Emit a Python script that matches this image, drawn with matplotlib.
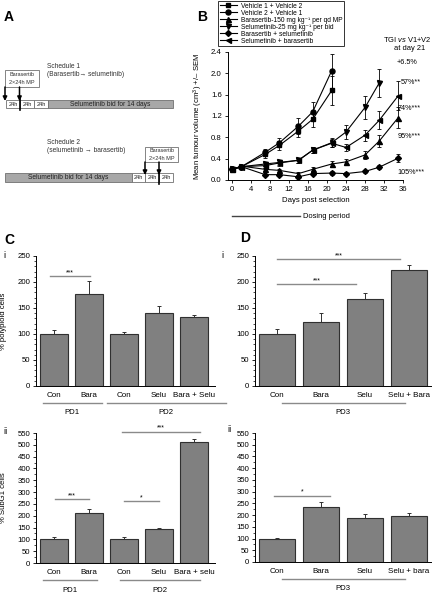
import numpy as np
import matplotlib
matplotlib.use("Agg")
import matplotlib.pyplot as plt
from matplotlib.patches import Rectangle

plt.rcParams['font.family'] = ['Liberation Sans', 'DejaVu Sans']
plt.rcParams['mathtext.fontset'] = 'custom'
plt.rcParams['mathtext.rm'] = 'Liberation Sans'
plt.rcParams['mathtext.it'] = 'Liberation Sans:italic'

W, H = 433, 596

# ---- panel B: tumour volume data (cm3) ----
veh_days = [0, 2, 7, 10, 14, 17, 21]
long_days = [0, 2, 7, 10, 14, 17, 21, 24, 28, 31, 35]
selu_days = [0, 2, 7, 10, 14, 17, 21, 24, 28, 31]

v1_vol = [0.20, 0.25, 0.48, 0.65, 0.92, 1.14, 1.68]
v1_err = [0.02, 0.03, 0.06, 0.08, 0.12, 0.15, 0.27]
v2_vol = [0.20, 0.25, 0.52, 0.70, 1.01, 1.28, 2.05]
v2_err = [0.02, 0.03, 0.06, 0.08, 0.15, 0.18, 0.32]
bara_vol = [0.20, 0.26, 0.20, 0.18, 0.12, 0.20, 0.30, 0.34, 0.47, 0.73, 1.17]
bara_err = [0.02, 0.03, 0.03, 0.03, 0.03, 0.04, 0.05, 0.06, 0.07, 0.12, 0.19]
selu_vol = [0.20, 0.25, 0.30, 0.33, 0.37, 0.56, 0.70, 0.90, 1.36, 1.82]
selu_err = [0.02, 0.03, 0.04, 0.05, 0.05, 0.06, 0.08, 0.14, 0.22, 0.27]
bs_vol = [0.20, 0.25, 0.10, 0.10, 0.06, 0.12, 0.13, 0.12, 0.16, 0.24, 0.41]
bs_err = [0.02, 0.03, 0.02, 0.03, 0.02, 0.03, 0.03, 0.03, 0.03, 0.04, 0.07]
sb_vol = [0.20, 0.25, 0.27, 0.32, 0.37, 0.56, 0.69, 0.61, 0.84, 1.12, 1.58]
sb_err = [0.02, 0.03, 0.04, 0.05, 0.05, 0.06, 0.07, 0.07, 0.10, 0.17, 0.27]

tgi_labels = ["+6.5%", "57%**", "74%***", "95%***", "105%***"]

# ---- panels C / D: bar data ----
c1_labels = ["Con", "Bara", "Con", "Selu", "Bara + Selu"]
c1_vals = [100, 177, 100, 141, 133]
c1_errs = [8, 24, 4, 13, 4]
c2_labels = ["Con", "Bara", "Con", "Selu", "Bara + selu"]
c2_vals = [100, 210, 100, 143, 512]
c2_errs = [12, 18, 8, 4, 12]
d1_labels = ["Con", "Bara", "Selu", "Selu + Bara"]
d1_vals = [100, 123, 167, 223]
d1_errs = [10, 18, 12, 10]
d2_labels = ["Con", "Bara", "Selu", "Selu + bara"]
d2_vals = [100, 233, 188, 195]
d2_errs = [4, 22, 15, 15]


def fx(px):
    return px / W


def fy(py):
    return 1 - py / H


def box(l, t, r, b):
    return [fx(l), fy(b), fx(r) - fx(l), fy(t) - fy(b)]


fig = plt.figure(figsize=(W / 100, H / 100), dpi=100)

# panel letters
for txt, px, py in [("A", 4, 17), ("B", 197, 17), ("C", 4, 240), ("D", 240, 238)]:
    fig.text(fx(px), fy(py), txt, fontsize=10, fontweight="bold", va="center")
for txt, px, py in [("i", 3, 256), ("ii", 3, 431), ("i", 221, 256), ("ii", 227, 430)]:
    fig.text(fx(px), fy(py), txt, fontsize=6.5, va="center")

# ---- panel A: schedule diagrams (drawn in pixel units) ----
ax_a = fig.add_axes(box(0, 40, 200, 200))
ax_a.set_xlim(0, 200)
ax_a.set_ylim(200, 40)
ax_a.axis("off")

grey = "#a8a8a8"
edge = "#707070"


def seg(ax, x0, x1, y0, y1, fc, label, fs=4.4):
    ax.add_patch(Rectangle((x0, y0), x1 - x0, y1 - y0, facecolor=fc, edgecolor=edge, lw=0.6))
    ax.text((x0 + x1) / 2, (y0 + y1) / 2, label, ha="center", va="center", fontsize=fs, color="#222")


def arrow(ax, x, y0, y1):
    ax.annotate("", xy=(x, y1), xytext=(x, y0),
                arrowprops=dict(arrowstyle="-|>", color="k", lw=1.1, mutation_scale=6,
                                shrinkA=0, shrinkB=0))


ax_a.text(47, 67, "Schedule 1", fontsize=4.8, va="center", color="#333")
ax_a.text(47, 75, "(Barasertib\u2192 selumetinib)", fontsize=4.8, va="center", color="#333")
seg(ax_a, 5, 39, 70, 87, "white", "", 4)
ax_a.text(22, 74.5, "Barasertib", fontsize=4.0, ha="center", va="center", color="#333")
ax_a.text(22, 82, "2\u00d724h MP", fontsize=4.0, ha="center", va="center", color="#333")
arrow(ax_a, 5, 87, 101)
arrow(ax_a, 19.5, 87, 101)
seg(ax_a, 6, 20, 100, 108, "white", "24h", 4.0)
seg(ax_a, 20, 34, 100, 108, "white", "24h", 4.0)
seg(ax_a, 34, 48, 100, 108, "white", "24h", 4.0)
seg(ax_a, 48, 173, 100, 108, grey, "Selumetinib bid for 14 days", 4.8)
ax_a.plot([20, 20], [99, 110], color="k", lw=1.2)

ax_a.text(47, 142, "Schedule 2", fontsize=4.8, va="center", color="#333")
ax_a.text(47, 150, "(selumetinib \u2192 barasertib)", fontsize=4.8, va="center", color="#333")
seg(ax_a, 5, 132, 173, 182, grey, "Selumetinib bid for 14 days", 4.8)
seg(ax_a, 132, 145, 173, 182, "white", "24h", 4.0)
seg(ax_a, 145, 159, 173, 182, "white", "24h", 4.0)
seg(ax_a, 159, 173, 173, 182, "white", "24h", 4.0)
seg(ax_a, 145, 178, 147, 162, "white", "", 4)
ax_a.text(161.5, 151, "Barasertib", fontsize=4.0, ha="center", va="center", color="#333")
ax_a.text(161.5, 158, "2\u00d724h MP", fontsize=4.0, ha="center", va="center", color="#333")
arrow(ax_a, 145, 162, 175)
arrow(ax_a, 159, 162, 175)
ax_a.plot([159, 159], [172, 184], color="k", lw=1.2)

# ---- panel B ----
ax_b = fig.add_axes(box(228, 52, 403, 180))
series = [
    (veh_days, v1_vol, v1_err, "s", 3.2, "Vehicle 1 + Vehicle 2"),
    (veh_days, v2_vol, v2_err, "o", 3.6, "Vehicle 2 + Vehicle 1"),
    (long_days, bara_vol, bara_err, "^", 3.6, "Barasertib-150 mg kg\u207b\u00b9 per qd MP"),
    (selu_days, selu_vol, selu_err, "v", 3.6, "Selumetinib-25 mg kg\u207b\u00b9 per bid"),
    (long_days, bs_vol, bs_err, "D", 3.0, "Barasertib + selumetinib"),
    (long_days, sb_vol, sb_err, "<", 3.6, "Selumetinib + barasertib"),
]
handles = []
for d, v, e, m, ms, lab in series:
    ax_b.errorbar(d, v, yerr=e, fmt="none", ecolor="k", elinewidth=0.6, capsize=1.3, capthick=0.6)
    h, = ax_b.plot(d, v, color="k", lw=0.8, marker=m, ms=ms, label=lab)
    handles.append(h)
ax_b.set_xlim(-0.84, 36)
ax_b.set_ylim(0, 2.4)
ax_b.set_xticks(np.arange(0, 37, 4))
ax_b.set_yticks(np.arange(0, 2.41, 0.4))
ax_b.set_yticklabels([f"{t:.1f}" for t in np.arange(0, 2.41, 0.4)])
ax_b.tick_params(labelsize=5.6, length=2.5, width=0.6, pad=2)
for s in ["top", "right"]:
    ax_b.spines[s].set_visible(False)
for s in ["left", "bottom"]:
    ax_b.spines[s].set_linewidth(0.7)
ax_b.set_xlabel("Days post selection", fontsize=5.6, labelpad=3)
ax_b.set_ylabel("Mean tumour volume (cm$^3$) +/\u2013 SEM", fontsize=5.6, labelpad=4)
leg = fig.legend(handles=handles, loc="upper left", bbox_to_anchor=(fx(218), fy(1)),
                 fontsize=4.8, frameon=True, fancybox=False, edgecolor="k",
                 handlelength=2.6, labelspacing=0.0, borderpad=0.25, handletextpad=0.6,
                 borderaxespad=0)
leg.get_frame().set_linewidth(0.7)

fig.text(fx(407), fy(39), "TGI $\\it{vs}$ V1+V2", fontsize=5.4, ha="center", va="center")
fig.text(fx(410), fy(48), "at day 21", fontsize=5.4, ha="center", va="center")
for lab, px, py in zip(tgi_labels, [397, 401, 398, 398, 397], [62, 83, 108, 137, 172]):
    fig.text(fx(px), fy(py), lab, fontsize=5.2, va="center")

# dosing period bar under the axis
tb = ax_b.get_xaxis_transform()
ax_b.plot([0, 14.3], [-36 / 128, -36 / 128], transform=tb, clip_on=False, color="#444", lw=1.0)
ax_b.text(15, -36 / 128, "Dosing period", transform=tb, fontsize=5.4, va="center")


# ---- bar panels ----
def bar_panel(ax, labels, vals, errs, ymax, major, minor, xlim, ylabel=None, label_x=None):
    x = np.arange(len(vals))
    ax.bar(x, vals, width=0.82, color="#808080", edgecolor="#303030", linewidth=0.8, zorder=2)
    ax.errorbar(x, vals, yerr=[np.zeros(len(errs)), errs], fmt="none", ecolor="#303030",
                elinewidth=0.7, capsize=1.5, capthick=0.7, zorder=3)
    ax.set_xlim(*xlim)
    ax.set_ylim(0, ymax)
    ax.set_yticks(np.arange(0, ymax + 1, major))
    ax.set_yticks(np.arange(0, ymax + 1, minor), minor=True)
    ax.set_xticks(x)
    ax.set_xticklabels(labels)
    ax.tick_params(axis="y", labelsize=5.6, length=2.5, width=0.6, pad=1.5)
    ax.tick_params(axis="y", which="minor", length=1.3, width=0.5)
    ax.tick_params(axis="x", labelsize=5.8, length=0, pad=4)
    for s in ["top", "right"]:
        ax.spines[s].set_visible(False)
    for s in ["left", "bottom"]:
        ax.spines[s].set_linewidth(0.7)
    if ylabel:
        ax.set_ylabel(ylabel, fontsize=5.6)
        ax.yaxis.set_label_coords(label_x, 0.5)


def group_line(ax, x0, x1, text, tx=None):
    t = ax.get_xaxis_transform()
    ax.plot([x0, x1], [-17 / 130, -17 / 130], transform=t, clip_on=False, color="#8a8a8a", lw=1.0)
    if tx is None:
        tx = (x0 + x1) / 2
    ax.text(tx, -27 / 130, text, transform=t, fontsize=5.6, ha="center", va="center")


def sig(ax, x0, x1, y, stars):
    ax.plot([x0, x1], [y, y], color="#8a8a8a", lw=1.0, clip_on=False)
    ax.text((x0 + x1) / 2, y, stars, fontsize=5, ha="center", va="bottom", clip_on=False)


ax_c1 = fig.add_axes(box(36, 256, 215, 386))
bar_panel(ax_c1, c1_labels, c1_vals, c1_errs, 250, 50, 10, (-0.51, 4.6),
          "% polyploid cells", -29 / 179)
group_line(ax_c1, -0.31, 1.37, "PD1")
group_line(ax_c1, 1.51, 4.9, "PD2", tx=3.2)
sig(ax_c1, -0.1, 1.03, 211, "***")

ax_c2 = fig.add_axes(box(36, 433, 215, 563))
bar_panel(ax_c2, c2_labels, c2_vals, c2_errs, 550, 50, 25, (-0.51, 4.6),
          "% SubG1 cells", -29 / 179)
group_line(ax_c2, -0.31, 1.23, "PD1")
group_line(ax_c2, 1.89, 4.17, "PD2")
sig(ax_c2, 0.03, 1.0, 271, "***")
sig(ax_c2, 2.0, 3.0, 262, "*")
sig(ax_c2, 1.94, 4.17, 556, "***")

ax_d1 = fig.add_axes(box(255, 256, 431, 386))
bar_panel(ax_d1, d1_labels, d1_vals, d1_errs, 250, 50, 10, (-0.5, 3.5))
group_line(ax_d1, 0.11, 2.9, "PD3")
sig(ax_d1, 0.0, 1.8, 196, "***")
sig(ax_d1, 0.0, 2.8, 244, "***")

ax_d2 = fig.add_axes(box(255, 433, 431, 562))
bar_panel(ax_d2, d2_labels, d2_vals, d2_errs, 550, 50, 25, (-0.5, 3.5))
group_line(ax_d2, 0.11, 2.9, "PD3")
sig(ax_d2, -0.07, 1.2, 283, "*")

fig.savefig("out.png", dpi=100)
